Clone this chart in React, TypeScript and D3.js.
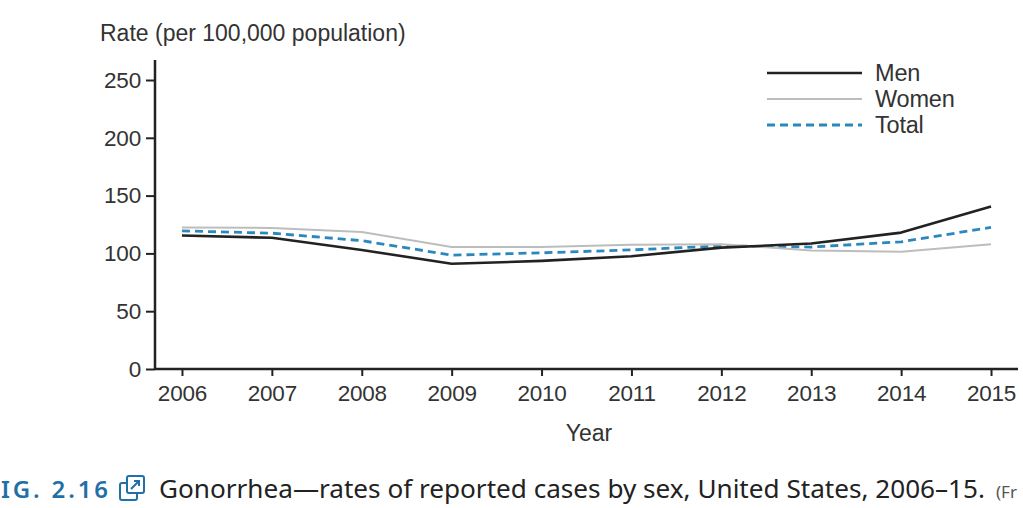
import { useEffect, useRef } from 'react';
import * as d3 from 'd3';

const WIDTH = 1023;
const HEIGHT = 508;
const MARGIN = { top: 80, right: 5, bottom: 139, left: 155 };

const years = [2006, 2007, 2008, 2009, 2010, 2011, 2012, 2013, 2014, 2015];
const men = [115.5, 113.5, 103, 91, 93.5, 97.5, 105, 108.5, 118, 140.5];
const women = [122.5, 122, 118.5, 105.5, 105.5, 107.5, 108, 102.5, 101.5, 108];
const total = [119.5, 117.5, 111, 98.5, 100.5, 103, 106.5, 105.5, 110, 122.5];
const yTicks = [0, 50, 100, 150, 200, 250];

const SERIES = [
  { name: 'Men', values: men, color: '#222', width: 2.6, dash: null as string | null },
  { name: 'Women', values: women, color: '#bdbdbd', width: 2, dash: null as string | null },
  { name: 'Total', values: total, color: '#2b88bd', width: 2.8, dash: '8,5' },
];

const FONT = '"Liberation Sans", Arial, sans-serif';

export default function App() {
  const svgRef = useRef<SVGSVGElement>(null);

  useEffect(() => {
    document.body.style.margin = '0';
    if (!svgRef.current) return;
    const svg = d3.select(svgRef.current);
    svg.selectAll('*').remove();

    const innerWidth = WIDTH - MARGIN.left - MARGIN.right;
    const innerHeight = HEIGHT - MARGIN.top - MARGIN.bottom;
    const g = svg.append('g').attr('transform', `translate(${MARGIN.left},${MARGIN.top})`);

    const x = d3.scaleLinear().domain([2005.7, 2015.3]).range([0, innerWidth]);
    const y = d3.scaleLinear().domain([0, 250]).range([innerHeight, 0]);

    // y axis
    const yAxis = g
      .append('g')
      .call(d3.axisLeft(y).tickValues(yTicks).tickSize(9).tickSizeOuter(0).tickPadding(5));
    yAxis.select('.domain').remove();
    g.append('line')
      .attr('x1', 0)
      .attr('x2', 0)
      .attr('y1', y(250) - 20)
      .attr('y2', innerHeight)
      .attr('stroke', '#222')
      .attr('stroke-width', 2.5);

    // x axis
    const xAxis = g
      .append('g')
      .attr('transform', `translate(0,${innerHeight})`)
      .call(
        d3
          .axisBottom(x)
          .tickValues(years)
          .tickFormat(d3.format('d'))
          .tickSize(7)
          .tickSizeOuter(0)
          .tickPadding(9)
      );
    xAxis.select('.domain').remove();
    g.append('line')
      .attr('x1', 0)
      .attr('x2', innerWidth)
      .attr('y1', innerHeight)
      .attr('y2', innerHeight)
      .attr('stroke', '#222')
      .attr('stroke-width', 2.5);

    g.selectAll('.tick line').attr('stroke', '#222').attr('stroke-width', 2);
    g.selectAll('.tick text')
      .attr('fill', '#333')
      .style('font-family', FONT)
      .style('font-size', '22.5px')
      .style('letter-spacing', '-0.2px');

    // lines
    const line = d3
      .line<number>()
      .x((_, i) => x(years[i]))
      .y((d) => y(d));

    SERIES.slice()
      .reverse()
      .forEach((s) => {
        g.append('path')
          .datum(s.values)
          .attr('fill', 'none')
          .attr('stroke', s.color)
          .attr('stroke-width', s.width)
          .attr('stroke-dasharray', s.dash)
          .attr('stroke-linejoin', 'round')
          .attr('d', line);
      });

    // legend
    const legend = svg.append('g').attr('transform', 'translate(767,73)');
    SERIES.forEach((s, i) => {
      const row = legend.append('g').attr('transform', `translate(0,${i * 26})`);
      row
        .append('line')
        .attr('x1', 0)
        .attr('x2', 95)
        .attr('stroke', s.color)
        .attr('stroke-width', s.width)
        .attr('stroke-dasharray', s.dash);
      row
        .append('text')
        .attr('x', 108)
        .attr('y', 8)
        .attr('fill', '#333')
        .style('font-family', FONT)
        .style('font-size', '23.5px')
        .style('letter-spacing', '-0.2px')
        .text(s.name);
    });

    // axis titles
    svg
      .append('text')
      .attr('x', 100)
      .attr('y', 41)
      .attr('fill', '#333')
      .style('font-family', FONT)
      .style('font-size', '23px')
      .text('Rate (per 100,000 population)');
    svg
      .append('text')
      .attr('x', 589)
      .attr('y', 441)
      .attr('text-anchor', 'middle')
      .attr('fill', '#333')
      .style('font-family', FONT)
      .style('font-size', '23px')
      .text('Year');

    // caption (left and right ends are cut by the page edge in the source)
    svg
      .append('text')
      .attr('x', 1)
      .attr('y', 498)
      .attr('fill', '#1f6fa8')
      .attr('textLength', 107)
      .attr('lengthAdjust', 'spacing')
      .style('font-family', '"Noto Sans", sans-serif')
      .style('font-weight', '600')
      .style('font-size', '24px')
      .text('IG. 2.16');
    const icon = svg
      .append('g')
      .attr('transform', 'translate(120,476)')
      .attr('fill', 'none')
      .attr('stroke', '#1f6fa8')
      .attr('stroke-width', 2);
    icon.append('rect').attr('x', 0).attr('y', 7).attr('width', 17).attr('height', 17).attr('rx', 2);
    icon.append('rect').attr('x', 7).attr('y', 0).attr('width', 17).attr('height', 17).attr('rx', 2).attr('fill', '#fff');
    icon.append('path').attr('d', 'M11 13 L19 5 M14 5 L19 5 L19 10');
    svg
      .append('text')
      .attr('x', 159)
      .attr('y', 498)
      .attr('fill', '#222')
      .attr('textLength', 826)
      .attr('lengthAdjust', 'spacingAndGlyphs')
      .style('font-family', '"Noto Sans", sans-serif')
      .style('font-size', '26px')
      .text('Gonorrhea\u2014rates of reported cases by sex, United States, 2006\u201315.');
    svg
      .append('text')
      .attr('x', 996)
      .attr('y', 498)
      .attr('fill', '#555')
      .style('font-family', '"Noto Sans", sans-serif')
      .style('font-size', '17px')
      .text('(Fr');
  }, []);

  return <svg ref={svgRef} width={WIDTH} height={HEIGHT} style={{ display: 'block', background: '#fff' }} />;
}
